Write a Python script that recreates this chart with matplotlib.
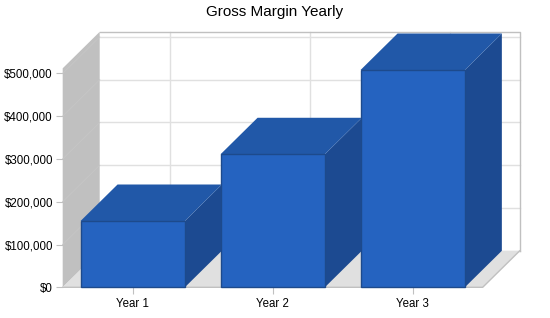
import matplotlib.pyplot as plt
from matplotlib.patches import Polygon
from matplotlib.ticker import FuncFormatter

plt.rcParams['font.family'] = ['Liberation Sans', 'DejaVu Sans']

# data
years = ["Year 1", "Year 2", "Year 3"]
gross_margin = [155000, 311000, 508000]
y_ticks = [0, 100000, 200000, 300000, 400000, 500000]
y_max = 512000

front = "#2563C0"
top_c = "#2158A8"
side_c = "#1C4A91"
edge_c = "#1D4A8C"
wall_c = "#C0C0C0"
floor_c = "#E0E0E0"
grid_c = "#E0E0E0"

fig = plt.figure(figsize=(5.5, 3.18), dpi=100)
W, H = 550, 318
ax = fig.add_axes([62.7 / W, 30.7 / H, 420 / W, 219 / H])
ax.set_xlim(-0.5, 2.5)
ax.set_ylim(0, y_max)

# depth offset, pixels -> data units
px_per_x = 420 / 3
px_per_y = 219 / y_max
dx = 37 / px_per_x
dy = 36.5 / px_per_y

x0, x1 = -0.5, 2.5

# back wall
ax.add_patch(Polygon([(x0 + dx, dy), (x1 + dx, dy), (x1 + dx, y_max + dy), (x0 + dx, y_max + dy)],
                     closed=True, facecolor="white", edgecolor="none", clip_on=False, zorder=1))
for t in y_ticks:
    ax.plot([x0 + dx, x1 + dx], [t + dy, t + dy], color=grid_c, lw=1, clip_on=False, zorder=1.1)
for i in range(len(years)):
    ax.plot([i + dx, i + dx], [dy, y_max + dy], color=grid_c, lw=1, clip_on=False, zorder=1.1)
ax.plot([x0 + dx, x1 + dx, x1 + dx], [y_max + dy, y_max + dy, dy], color=wall_c, lw=1,
        clip_on=False, zorder=1.2)

# left wall
ax.add_patch(Polygon([(x0, 0), (x0 + dx, dy), (x0 + dx, y_max + dy), (x0, y_max)],
                     closed=True, facecolor=wall_c, edgecolor="none", clip_on=False, zorder=2))
for t in y_ticks[1:]:
    ax.plot([x0, x0 + dx], [t, t + dy], color="#C5C5C5", lw=0.7, clip_on=False, zorder=2.1)

# floor
ax.add_patch(Polygon([(x0, 0), (x1, 0), (x1 + dx, dy), (x0 + dx, dy)],
                     closed=True, facecolor=floor_c, edgecolor="none", clip_on=False, zorder=2))
ax.plot([x0, x1, x1 + dx], [0, 0, dy], color=wall_c, lw=1, clip_on=False, zorder=2.2)

# bars
w = 0.745
for i, v in enumerate(gross_margin):
    l, r = i - w / 2, i + w / 2
    z = 3 + i
    ax.add_patch(Polygon([(r, 0), (r + dx, dy), (r + dx, v + dy), (r, v)], closed=True,
                         facecolor=side_c, edgecolor="none", clip_on=False, zorder=z))
    ax.add_patch(Polygon([(l, v), (r, v), (r + dx, v + dy), (l + dx, v + dy)], closed=True,
                         facecolor=top_c, edgecolor="none", clip_on=False, zorder=z))
    ax.bar(i, v, width=w, color=front, edgecolor=edge_c, linewidth=1, zorder=z + 0.5, clip_on=False)

ax.set_xticks(range(len(years)))
ax.set_xticklabels(years)
ax.set_yticks(y_ticks)
ax.yaxis.set_major_formatter(FuncFormatter(lambda v, p: "${:,.0f}".format(v)))
ax.tick_params(axis="both", color=wall_c, length=5, labelsize=8.3, labelcolor="black")
ax.tick_params(axis="y", pad=2)
ax.tick_params(axis="x", pad=3)
for s in ax.spines.values():
    s.set_visible(False)
ax.patch.set_visible(False)

fig.text(0.5, 1 - 12 / H, "Gross Margin Yearly", ha="center", va="center", fontsize=11)

fig.savefig("out.png", dpi=100)
